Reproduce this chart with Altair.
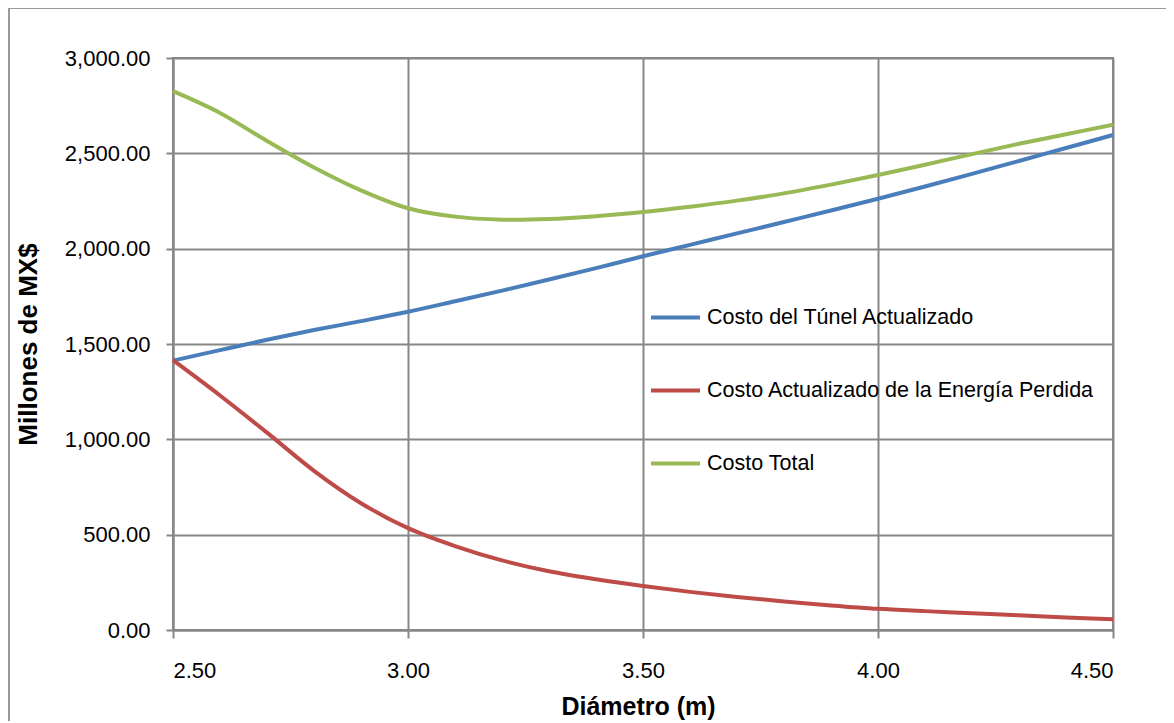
import altair as alt
import pandas as pd

diametro = [2.5, 2.6, 2.7, 2.8, 2.9, 3.0, 3.1, 3.2, 3.3, 3.4, 3.5,
            3.6, 3.7, 3.8, 3.9, 4.0, 4.1, 4.2, 4.3, 4.4, 4.5]
costo_tunel = [1413, 1468, 1522, 1573, 1620, 1669, 1724, 1780, 1838, 1898, 1960,
               2020, 2080, 2140, 2200, 2262, 2326, 2392, 2460, 2528, 2596]
costo_energia = [1415, 1230, 1035, 835, 665, 534, 440, 365, 308, 266, 231,
                 200, 173, 150, 129, 111, 99, 88, 77, 66, 56]
costo_total = [2826, 2712, 2565, 2426, 2306, 2212, 2168, 2152, 2155, 2170, 2192,
               2220, 2252, 2290, 2336, 2386, 2440, 2496, 2550, 2600, 2650]

series = ["Costo del Túnel Actualizado",
          "Costo Actualizado de la Energía Perdida",
          "Costo Total"]
colores = ["#4A7EBB", "#BE4B48", "#98B954"]
x_ticks = [2.5, 3.0, 3.5, 4.0, 4.5]
y_ticks = [0, 500, 1000, 1500, 2000, 2500, 3000]

rows = []
for vals, name in zip([costo_tunel, costo_energia, costo_total], series):
    for d, v in zip(diametro, vals):
        rows.append({"Diámetro": d, "Costo": v, "Serie": name})
df = pd.DataFrame(rows)

FONT = "Liberation Sans"
GRID = "#878787"
W, H = 940, 572

lines = alt.Chart(df).mark_line(strokeWidth=4, interpolate="cardinal", tension=0).encode(
    x=alt.X("Diámetro:Q",
            scale=alt.Scale(domain=[2.5, 4.5], nice=False, zero=False),
            axis=alt.Axis(values=x_ticks, format=".2f", title="Diámetro (m)",
                          grid=True, gridColor=GRID, gridWidth=2,
                          domainColor=GRID, domainWidth=2,
                          tickColor=GRID, tickWidth=2, tickSize=8,
                          labelFont=FONT, labelFontSize=22, labelColor="#000",
                          labelPadding=22,
                          titleFont=FONT, titleFontSize=25, titleFontWeight="bold",
                          titleColor="#000", titleBaseline="alphabetic",
                          titleX=465, titleY=84)),
    y=alt.Y("Costo:Q",
            scale=alt.Scale(domain=[0, 3000], nice=False),
            axis=alt.Axis(values=y_ticks, format=",.2f", title="Millones de MX$",
                          grid=True, gridColor=GRID, gridWidth=2,
                          domainColor=GRID, domainWidth=2,
                          tickColor=GRID, tickWidth=2, tickSize=7,
                          labelFont=FONT, labelFontSize=22, labelColor="#000",
                          labelPadding=16,
                          titleFont=FONT, titleFontSize=26, titleFontWeight="bold",
                          titleColor="#000", titleBaseline="alphabetic",
                          titleX=-137, titleY=286)),
    color=alt.Color("Serie:N",
                    scale=alt.Scale(domain=series, range=colores),
                    sort=series,
                    legend=alt.Legend(title=None, orient="none",
                                      legendX=476, legendY=233,
                                      symbolType="stroke", symbolSize=2401,
                                      symbolStrokeWidth=4, labelOffset=5,
                                      labelFont=FONT, labelFontSize=21.5,
                                      labelColor="#000", rowPadding=36,
                                      padding=0, labelLimit=600)),
)

border = alt.Chart(pd.DataFrame({"a": [0]})).mark_rect(
    fill=None, stroke="#9a9a9a", strokeWidth=2, clip=False
).encode(x=alt.value(-164), x2=alt.value(W + 200),
         y=alt.value(-50), y2=alt.value(H + 200))

chart = alt.layer(border, lines).properties(
    width=W, height=H,
    autosize=alt.AutoSizeParams(type="none"),
    padding={"left": 165, "top": 50, "right": 53, "bottom": 91},
).configure_view(stroke=GRID, strokeWidth=2)

chart.save("out.html", embed_options={"renderer": "svg", "actions": False})
